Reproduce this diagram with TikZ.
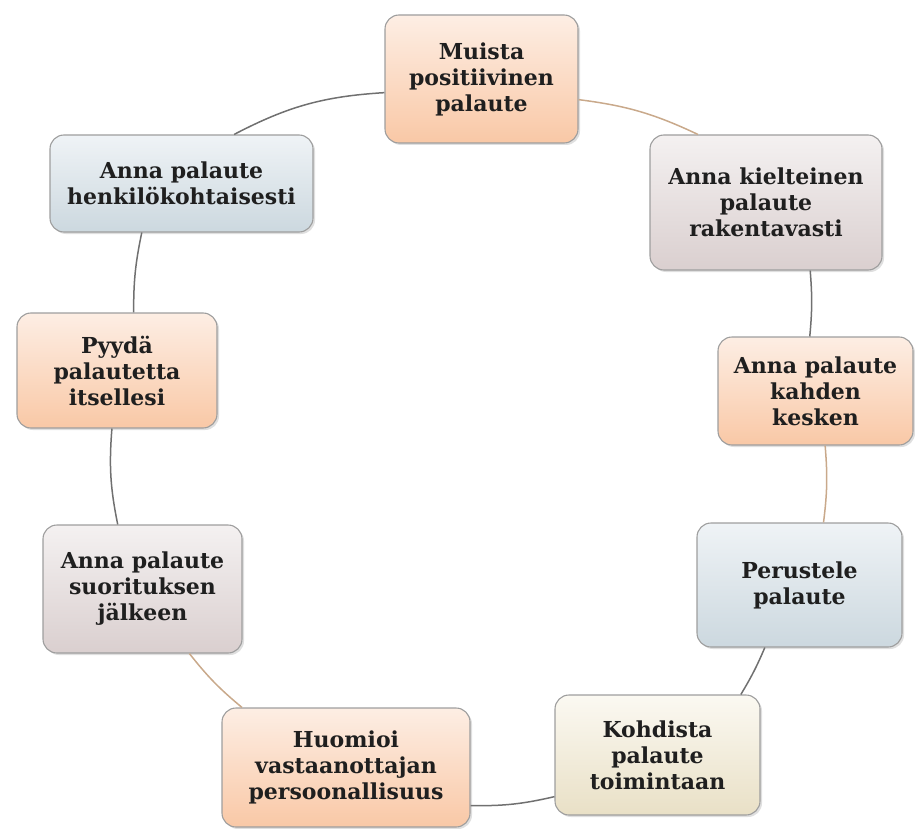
\documentclass[tikz,border=0pt]{standalone}
\usepackage{fontspec}
\setmainfont{DejaVu Serif}
\usepackage{tikz}
\usetikzlibrary{shapes, positioning, shadows, backgrounds}
\definecolor{OrangeTop}{HTML}{FDEEE4}
\definecolor{OrangeBot}{HTML}{F9C8A6}
\definecolor{MauveTop}{HTML}{F4F1F1}
\definecolor{MauveBot}{HTML}{DACFCF}
\definecolor{BlueTop}{HTML}{EFF3F6}
\definecolor{BlueBot}{HTML}{CCD8DF}
\definecolor{SandTop}{HTML}{FBF9F2}
\definecolor{SandBot}{HTML}{E9E0C6}
\definecolor{LinkGrey}{HTML}{707070}
\definecolor{LinkTan}{HTML}{C9A98B}

\begin{document}
\begin{tikzpicture}[x=1pt, y=1pt,
    box/.style={shape=rectangle, rounded corners=14pt, draw=black!38, line width=1.1pt,
        align=center, text=black!88, inner sep=2pt,
        font=\bfseries\fontsize{22}{26}\selectfont,
        drop shadow={opacity=0.25, shadow xshift=2pt, shadow yshift=-2pt}},
    orangebox/.style={box, top color=OrangeTop, bottom color=OrangeBot},
    mauvebox/.style={box, top color=MauveTop, bottom color=MauveBot},
    bluebox/.style={box, top color=BlueTop, bottom color=BlueBot},
    sandbox/.style={box, top color=SandTop, bottom color=SandBot},
    link/.style={line width=1.5pt}]
    \useasboundingbox (0,0) rectangle (915,-829);

    \node[orangebox, minimum width=193pt, minimum height=128pt] (muista)     at (481.5, -79)   {Muista\\positiivinen\\palaute};
    \node[mauvebox,  minimum width=232pt, minimum height=135pt] (kielteinen) at (766, -202.5)  {Anna kielteinen\\palaute\\rakentavasti};
    \node[orangebox, minimum width=195pt, minimum height=108pt] (kahden)     at (815.5, -391)  {Anna palaute\\kahden\\kesken};
    \node[bluebox,   minimum width=205pt, minimum height=124pt] (perustele)  at (799.5, -585)  {Perustele\\palaute};
    \node[sandbox,   minimum width=205pt, minimum height=120pt] (kohdista)   at (657.5, -755)  {Kohdista\\palaute\\toimintaan};
    \node[orangebox, minimum width=248pt, minimum height=119pt] (huomioi)    at (346, -767.5)  {Huomioi\\vastaanottajan\\persoonallisuus};
    \node[mauvebox,  minimum width=199pt, minimum height=128pt] (suoritus)   at (142.5, -589)  {Anna palaute\\suorituksen\\jälkeen};
    \node[orangebox, minimum width=200pt, minimum height=115pt] (pyyda)      at (117, -370.5)  {Pyydä\\palautetta\\itsellesi};
    \node[bluebox,   minimum width=263pt, minimum height=97pt]  (henkilo)    at (181.5, -183.5) {Anna palaute\\henkilökohtaisesti};

    \path[link, LinkTan]  (muista.348)     edge[bend left=9]  (kielteinen.135);
    \path[link, LinkGrey] (kielteinen.303) edge[bend left=5]  (kahden.96);
    \path[link, LinkTan]  (kahden.280)     edge[bend left=6]  (perustele.69);
    \path[link, LinkGrey] (perustele.241)  edge[bend left=4]  (kohdista.36);
    \path[link, LinkGrey] (kohdista.202)   edge[bend left=7]  (huomioi.343);
    \path[link, LinkTan]  (huomioi.150)    edge[bend left=6]  (suoritus.306);
    \path[link, LinkGrey] (suoritus.111)   edge[bend left=8]  (pyyda.265);
    \path[link, LinkGrey] (pyyda.74)       edge[bend left=6]  (henkilo.231);
    \path[link, LinkGrey] (henkilo.43)     edge[bend left=12] (muista.188);
\end{tikzpicture}
\end{document}
